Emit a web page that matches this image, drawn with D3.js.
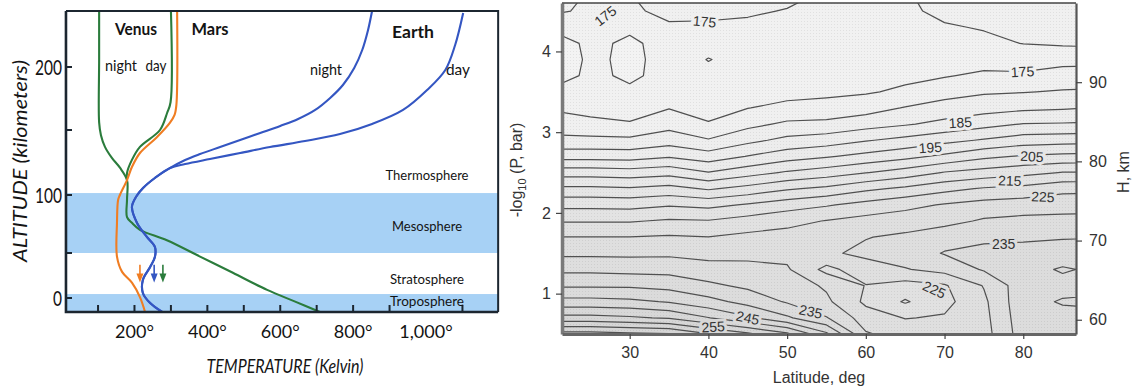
<!DOCTYPE html>
<html>
  <head>
    <meta charset="utf-8">
    <title>Atmospheric temperature profiles</title>
    <script src="https://cdn.jsdelivr.net/npm/d3@7"></script>
    <style>
      body { margin: 0; background: #fff; }
      svg { display: block; }
      .left text { font-family: Lato, "Open Sans", sans-serif; fill: #141414; }
      .right text { font-family: "Liberation Sans", Arial, sans-serif; fill: #333; }
    </style>
  </head>
  <body>
    <svg id="chart" width="1133" height="388"></svg>

    <script>
      // ---- left panel data: [temperature K, altitude km]
      const venusNight = [[103, 244], [103, 206], [103, 156], [108, 146], [119, 137], [138, 128.5], [160, 121],
        [179.5, 111.5], [179.5, 96], [179.5, 81], [193, 76], [215, 70], [289, 61], [380, 46], [470, 28],
        [564, 9], [641, -4], [709, -15.5]];
      const venusDay = [[300, 245], [299, 172], [289.5, 163.5], [270, 150], [215, 137], [193, 127], [179.5, 117], [179.5, 111.5]];
      const mars = [[317, 245], [315, 170], [310, 162], [297, 155.6], [262, 144.6], [215, 132.3], [193, 121.5],
        [179.5, 111.5], [160, 100], [155, 95.7], [152, 76], [152, 46], [166, 29], [193, 17], [215, 1], [229, -15.5]];
      const earthNight = [[852, 244.4], [841, 229.4], [825, 213.5], [803, 199.2], [772, 185.7], [737, 175.4],
        [696, 165.9], [649, 158.7], [600, 153.2], [545, 147.7], [490, 142.3], [435, 136.9], [380, 131.5],
        [339, 126.9], [298, 120.8], [256, 113.1], [223.5, 105.4], [204, 98.3], [193, 89.7], [207, 75.9],
        [234, 63.8], [256, 55.2], [256, 45.6], [243, 34.4], [223, 20], [223, 5.6], [243, -5.6], [276, -15.5]];
      const earthDay = [[1102, 242.9], [1080, 217.5], [1053, 197.6], [1003, 181.7], [937, 165.9], [852, 154.8],
        [764, 146.9], [668, 141.5], [572, 136.9], [490, 132.3], [407, 127.7], [339, 123.8], [298, 120.8],
        [256, 113.1], [223.5, 105.4], [204, 98.3], [193, 89.7], [207, 75.9], [234, 63.8], [256, 55.2],
        [256, 45.6], [243, 34.4], [223, 20], [223, 5.6], [243, -5.6], [276, -15.5]];
      const arrowTemps = [215, 254, 278];           // Mars, Earth, Venus
      const blueLayers = [[-15.5, 4.4], [50, 101.5]]; // troposphere, mesosphere (km)
      const layerNames = ["Thermosphere", "Mesosphere", "Stratosphere", "Troposphere"];
      const tempTicks = [100, 200, 300, 400, 500, 600, 700, 800, 900, 1100];
      const tempLabels = [200, 400, 600, 800, 1000];
      const altTicks = [0, 50, 100, 150, 200];
      const altLabels = [0, 100, 200];

      // ---- right panel data: temperature (K) on a latitude x -log10(P) grid
      const gridLats = [20, 25, 30, 35, 40, 45, 50, 55, 60, 65, 70, 75, 80, 85, 90];
      const gridLevels = [0.5, 0.7, 0.9, 1.1, 1.3, 1.5, 1.7, 1.9, 2.1, 2.3, 2.5, 2.7, 2.9, 3.1, 3.3, 3.5, 3.7, 3.9, 4.1, 4.3, 4.5, 4.7];
      const p05 = [272, 272, 271, 270.3, 265.3, 261, 256, 246, 230.5, 228, 227.5, 228, 237.5, 238, 238];
      const p07 = [256.7, 256.7, 255.8, 254.4, 250.2, 245.8, 240.8, 235.3, 227.5, 224.8, 225.5, 228.5, 238, 238.5, 238.5];
      const p09 = [246.7, 246.7, 246.1, 244.6, 241.7, 238.3, 234.5, 231, 224, 219.5, 223.5, 229, 238.5, 240.4, 241];
      const p11 = [239.3, 239.3, 239.2, 238.3, 236, 234, 232.6, 229.3, 224.8, 223, 224.5, 230.3, 238, 238.5, 238.5];
      const p13 = [233.8, 233.8, 233.4, 233.3, 231.9, 231.3, 230.6, 223.5, 228, 229.7, 231.7, 235.5, 238.3, 240.5, 239];
      const p15 = [229, 229, 228.9, 229.1, 228.4, 228.8, 228.6, 229.3, 231, 232.5, 235.3, 236.5, 236.8, 237.5, 237.5];
      const p17 = [225.1, 225.1, 225.1, 225.5, 225.1, 226.2, 226.6, 227.5, 229.8, 230.9, 233, 233.9, 234.2, 234.6, 234.8];
      const p19 = [219.6, 219.6, 219.6, 220.6, 220.3, 222, 223.7, 225.2, 226.7, 227.6, 228.5, 230.6, 231.3, 231.4, 231.6];
      const p21 = [213.6, 213.6, 213.3, 214.5, 213.6, 215.5, 217.7, 219.5, 221.7, 223.6, 225.4, 226.8, 227.5, 228.1, 228.3];
      const p23 = [206, 206, 205.6, 206.7, 204.4, 206.7, 209.4, 211.1, 213.9, 216, 218.5, 220.5, 221.5, 223.5, 223.8];
      const p25 = [197.8, 197.8, 197.2, 198.3, 195.2, 198, 200.6, 202.5, 204.8, 207.2, 210.3, 212, 213.5, 215.2, 215.3];
      const p27 = [188.1, 188.1, 187.8, 189.5, 187.3, 190.2, 192.9, 194.5, 196.5, 198.5, 201.1, 203.9, 205.5, 206.3, 206.5];
      const p29 = [181.3, 181.3, 181.1, 182.8, 180.4, 183.7, 186.3, 187.5, 189.6, 191.5, 193.5, 195.5, 197.5, 198, 198.3];
      const p31 = [177.4, 176.2, 175.3, 178.2, 175.3, 178.6, 180.9, 181.3, 183, 184.5, 186.4, 188.3, 190.2, 190.4, 190.8];
      const p33 = [174.5, 173.5, 173.5, 174.8, 173.5, 174.9, 176.2, 176.7, 177.9, 180.3, 181.9, 183.1, 184, 184.5, 185.2];
      const p35 = [171.5, 172.5, 171.5, 173, 172.5, 173, 173.5, 174, 174.5, 175.9, 178.2, 179.4, 179.8, 180.4, 180.8];
      const p37 = [165, 172, 168.5, 172.8, 171.5, 172, 172.5, 173, 173.5, 173.8, 174.6, 176, 176, 177, 177.2];
      const p39 = [162, 172, 168, 173, 169.8, 172, 172.5, 172.5, 173, 173.5, 174, 172.8, 172, 173.4, 173.6];
      const p41 = [165, 172, 168.5, 173, 172, 172.5, 173, 173, 173, 173.5, 174, 174, 175.1, 175.3, 175.4];
      const p43 = [171.5, 173, 171.5, 174.2, 174, 174.2, 174, 173.5, 173.5, 173.8, 174.6, 175.3, 176.5, 176.5, 176.6];
      const p45 = [176, 174, 174, 176.5, 176.5, 175.5, 174.8, 174, 174, 174.2, 176, 176.5, 177.5, 177.5, 177.6];
      const p47 = [177.5, 174.5, 174.8, 178, 178, 177, 176, 174.5, 174.5, 174.5, 177, 177.5, 178.5, 178.5, 178.6];
      const labelValues = [175, 175, 175, 185, 195, 205, 215, 225, 235, 225, 235, 245, 255];
      const latTicks = [30, 40, 50, 60, 70, 80];
      const levelTicks = [1, 2, 3, 4];
      const heightTicks = [60, 70, 80, 90];

      // elements
      svg = d3.select("#chart");
      left = svg.append("g").attr("class", "left");
      right = svg.append("g").attr("class", "right");

      // ================= left panel =================
      x = d3.scaleLinear().domain([0, 1000]).range([61.6, 426]);
      y = d3.scaleLinear()
        .domain([-15.5, 0, 50, 100, 150, 200, 250])
        .range([312, 298, 253, 195, 130, 67, 4]);
      x0 = x(12); x1 = x(1198);
      yTop = y(244.4); yBottom = y(-15.5);

      left.selectAll(".band")
          .data(blueLayers)
        .enter().append("rect")
          .attr("x", x0)
          .attr("width", x1 - x0)
          .attr("y", function(d) { return y(d[1]); })
          .attr("height", function(d) { return y(d[0]) - y(d[1]); })
          .attr("fill", "#a7d1f5");

      line = d3.line()
        .x(function(d) { return x(d[0]); })
        .y(function(d) { return y(d[1]); })
        .curve(d3.curveCatmullRom.alpha(0.5));

      profiles = [
        { data: venusNight, colour: "#2b7c3c" },
        { data: venusDay, colour: "#2b7c3c" },
        { data: mars, colour: "#f07d22" },
        { data: earthNight, colour: "#3456c2" },
        { data: earthDay, colour: "#3456c2" }
      ];
      left.selectAll(".profile")
          .data(profiles)
        .enter().append("path")
          .attr("d", function(d) { return line(d.data); })
          .attr("fill", "none")
          .attr("stroke", function(d) { return d.colour; })
          .attr("stroke-width", 2.1);

      // small arrows in the stratosphere
      arrowColours = ["#f07d22", "#3456c2", "#2b7c3c"];
      arrows = left.selectAll(".arrow")
          .data(arrowTemps)
        .enter().append("g");
      arrows.append("line")
        .attr("x1", function(d) { return x(d); })
        .attr("x2", function(d) { return x(d); })
        .attr("y1", y(37))
        .attr("y2", y(24))
        .attr("stroke", function(d, i) { return arrowColours[i]; })
        .attr("stroke-width", 1.6);
      arrows.append("path")
        .attr("d", function(d) {
          let cx = x(d), cy = y(24);
          return "M" + (cx - 3.5) + "," + (cy - 3) + "L" + (cx + 3.5) + "," + (cy - 3) + "L" + cx + "," + (cy + 6) + "Z";
        })
        .attr("fill", function(d, i) { return arrowColours[i]; });

      // frame
      left.append("path")
        .attr("d", "M" + x0 + "," + yTop + "H" + x1 + "V" + yBottom)
        .attr("fill", "none")
        .attr("stroke", "#1c2630")
        .attr("stroke-width", 2);
      left.append("path")
        .attr("d", "M" + x0 + "," + yTop + "V" + yBottom + "H" + x1)
        .attr("fill", "none")
        .attr("stroke", "#1c2630")
        .attr("stroke-width", 2.6);

      // ticks
      left.selectAll(".xtick")
          .data(tempTicks)
        .enter().append("line")
          .attr("x1", function(d) { return x(d); })
          .attr("x2", function(d) { return x(d); })
          .attr("y1", yBottom)
          .attr("y2", yBottom - 7)
          .attr("stroke", "#1c2630")
          .attr("stroke-width", 2);
      left.selectAll(".ytick")
          .data(altTicks)
        .enter().append("line")
          .attr("x1", x0 - 1)
          .attr("x2", x0 + 6)
          .attr("y1", function(d) { return y(d); })
          .attr("y2", function(d) { return y(d); })
          .attr("stroke", "#1c2630")
          .attr("stroke-width", 2);

      left.selectAll(".xlabel")
          .data(tempLabels)
        .enter().append("text")
          .attr("x", function(d) { return x(d); })
          .attr("y", 338)
          .attr("text-anchor", "middle")
          .attr("font-size", 18)
          .text(function(d) { return d3.format(",")(d) + "°"; });
      left.selectAll(".ylabel")
          .data(altLabels)
        .enter().append("text")
          .attr("x", 62)
          .attr("y", function(d) { return y(d); })
          .attr("dy", "0.36em")
          .attr("text-anchor", "end")
          .attr("font-size", 22)
          .attr("textLength", function(d) { return String(d).length * 9; })
          .attr("lengthAdjust", "spacingAndGlyphs")
          .text(function(d) { return d; });

      left.append("text")
        .attr("x", 285)
        .attr("y", 373)
        .attr("text-anchor", "middle")
        .attr("font-size", 19)
        .attr("font-style", "italic")
        .attr("textLength", 157)
        .attr("lengthAdjust", "spacingAndGlyphs")
        .text("TEMPERATURE (Kelvin)");
      left.append("text")
        .attr("transform", "translate(27,161) rotate(-90)")
        .attr("text-anchor", "middle")
        .attr("font-size", 19)
        .attr("font-style", "italic")
        .attr("textLength", 202)
        .attr("lengthAdjust", "spacingAndGlyphs")
        .text("ALTITUDE (kilometers)");

      // curve annotations
      notes = [
        { t: "Venus", x: 136, y: 35, size: 17, bold: true, w: 42 },
        { t: "Mars", x: 210, y: 35, size: 17, bold: true, w: 37 },
        { t: "Earth", x: 413, y: 38, size: 17, bold: true, w: 42 },
        { t: "night", x: 121, y: 71, size: 15, w: 32 },
        { t: "day", x: 156, y: 71, size: 15, w: 21 },
        { t: "night", x: 326, y: 75, size: 15, w: 32 },
        { t: "day", x: 458, y: 75, size: 15, w: 24 }
      ];
      left.selectAll(".note")
          .data(notes)
        .enter().append("text")
          .attr("x", function(d) { return d.x; })
          .attr("y", function(d) { return d.y; })
          .attr("text-anchor", "middle")
          .attr("font-size", function(d) { return d.size; })
          .attr("font-weight", function(d) { return d.bold ? 700 : 400; })
          .attr("textLength", function(d) { return d.w; })
          .attr("lengthAdjust", "spacingAndGlyphs")
          .text(function(d) { return d.t; });

      layerBaselines = [180, 231, 284, 306];
      left.selectAll(".layer")
          .data(layerNames)
        .enter().append("text")
          .attr("x", 427)
          .attr("y", function(d, i) { return layerBaselines[i]; })
          .attr("text-anchor", "middle")
          .attr("font-size", 14)
          .attr("textLength", function(d, i) { return [83, 70, 74, 74][i]; })
          .attr("lengthAdjust", "spacingAndGlyphs")
          .text(function(d) { return d; });

      // ================= right panel =================
      lat = d3.scaleLinear().domain([21.4, 86.7]).range([562, 1076]);
      lev = d3.scaleLinear().domain([0.5, 4.6]).range([334, 3]);
      hkm = d3.scaleLinear().domain([58.2, 100]).range([334, 3]);

      grid = [p05, p07, p09, p11, p13, p15, p17, p19, p21, p23, p25, p27, p29, p31, p33, p35,
        p37, p39, p41, p43, p45, p47].flat();
      latStep = gridLats[1] - gridLats[0];
      levStep = gridLevels[1] - gridLevels[0];
      thresholds = d3.range(165, 280, 5);
      contours = d3.contours()
        .size([gridLats.length, gridLevels.length])
        .thresholds(thresholds)(grid);

      toScreen = d3.geoTransform({
        point: function(cx, cy) {
          this.stream.point(lat(gridLats[0] + (cx - 0.5) * latStep), lev(gridLevels[0] + (cy - 0.5) * levStep));
        }
      });
      contourPath = d3.geoPath(toScreen);
      shade = d3.scaleLinear()
        .domain([165, 200, 235, 275])
        .range(["#f3f3f3", "#e8e8e8", "#dcdcdc", "#d2d2d2"]);

      defs = svg.append("defs");
      defs.append("clipPath").attr("id", "plotClip")
        .append("rect").attr("x", 562).attr("y", 3).attr("width", 514).attr("height", 331);
      dots = defs.append("pattern").attr("id", "stipple")
        .attr("width", 3).attr("height", 3).attr("patternUnits", "userSpaceOnUse");
      dots.append("rect").attr("width", 1).attr("height", 1).attr("fill", "rgba(0,0,0,0.07)");

      plot = right.append("g").attr("clip-path", "url(#plotClip)");
      plot.selectAll(".fill")
          .data(contours)
        .enter().append("path")
          .attr("d", contourPath)
          .attr("fill", function(d) { return shade(d.value); });
      plot.append("rect")
        .attr("x", 562).attr("y", 3).attr("width", 514).attr("height", 331)
        .attr("fill", "url(#stipple)");
      plot.selectAll(".iso")
          .data(contours.filter(function(d) { return d.value >= 170; }))
        .enter().append("path")
          .attr("d", contourPath)
          .attr("fill", "none")
          .attr("stroke", "#505050")
          .attr("stroke-width", 1.2)
          .attr("stroke-linejoin", "round");

      // contour labels (anchor lat, level, tilt)
      labelSpots = [[26.9, 4.44, -38], [39.5, 4.37, 5], [79.9, 3.75, -3], [72, 3.12, -4], [68.2, 2.81, -4],
        [81.1, 2.7, 3], [78.3, 2.4, 2], [82.5, 2.2, 3], [77.5, 1.62, 0], [68.7, 1.05, 25], [53, 0.78, 12],
        [45, 0.7, 12], [40.6, 0.59, -3]];
      plot.selectAll(".clabel")
          .data(labelValues)
        .enter().append("text")
          .attr("transform", function(d, i) {
            let s = labelSpots[i];
            return "translate(" + lat(s[0]) + "," + lev(s[1]) + ") rotate(" + s[2] + ")";
          })
          .attr("dy", "0.36em")
          .attr("text-anchor", "middle")
          .attr("font-size", 14)
          .attr("stroke", function(d) { return shade(d); })
          .attr("stroke-width", 6)
          .attr("paint-order", "stroke")
          .text(function(d) { return d; });

      // axes
      axisLeft = right.append("g")
        .attr("transform", "translate(562,0)")
        .call(d3.axisLeft(lev).tickValues(levelTicks).tickFormat(d3.format("d"))
          .tickSize(6).tickPadding(5).tickSizeOuter(0));
      axisBottom = right.append("g")
        .attr("transform", "translate(0,334)")
        .call(d3.axisBottom(lat).tickValues(latTicks).tickFormat(d3.format("d"))
          .tickSize(5).tickPadding(8).tickSizeOuter(0));
      axisRight = right.append("g")
        .attr("transform", "translate(1076,0)")
        .call(d3.axisRight(hkm).tickValues(heightTicks).tickFormat(d3.format("d"))
          .tickSize(6).tickPadding(7).tickSizeOuter(0));
      right.selectAll(".tick text").attr("font-size", 16).attr("font-family", null).attr("fill", "#333");
      right.selectAll(".tick line").attr("stroke", "#444").attr("stroke-width", 1.2);
      axisLeft.select(".domain").attr("stroke", "#7a7a7a").attr("stroke-width", 3.5);
      axisBottom.select(".domain").attr("stroke", "#666").attr("stroke-width", 3);
      axisRight.select(".domain").attr("stroke", "#555").attr("stroke-width", 2.2);
      right.append("line")
        .attr("x1", 562).attr("x2", 1076).attr("y1", 3).attr("y2", 3)
        .attr("stroke", "#444").attr("stroke-width", 1.5);

      right.append("text")
        .attr("x", 819)
        .attr("y", 383)
        .attr("text-anchor", "middle")
        .attr("font-size", 16)
        .text("Latitude, deg");
      ylab = right.append("text")
        .attr("transform", "translate(522,170) rotate(-90)")
        .attr("text-anchor", "middle")
        .attr("font-size", 16);
      ylab.append("tspan").text("-log");
      ylab.append("tspan").attr("font-size", 11).attr("dy", 4).text("10");
      ylab.append("tspan").attr("dy", -4).text(" (P, bar)");
      right.append("text")
        .attr("transform", "translate(1129,172) rotate(-90)")
        .attr("text-anchor", "middle")
        .attr("font-size", 16)
        .text("H, km");
    </script>
  </body>
</html>
